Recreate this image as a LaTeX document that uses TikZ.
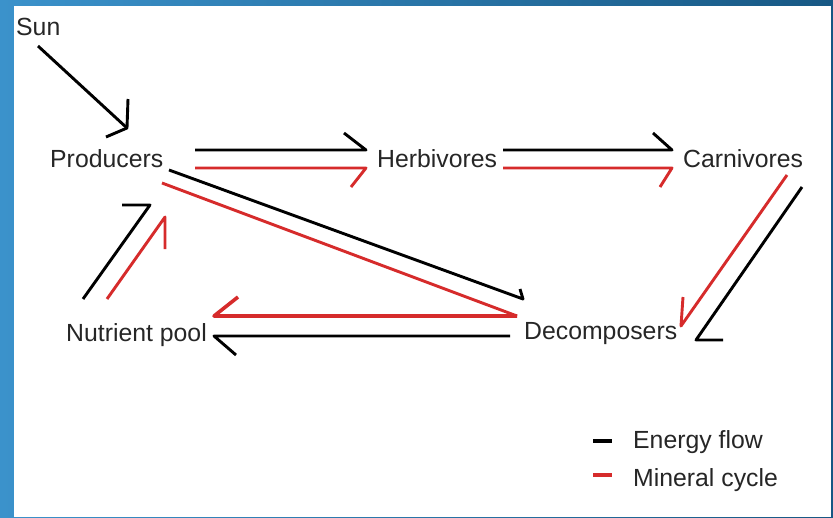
\documentclass[tikz,border=0pt]{standalone}
\usepackage{fontspec}
\setmainfont{Liberation Sans}
\definecolor{myred}{HTML}{D62B2B}
\definecolor{txt}{HTML}{262626}
\definecolor{blueL}{HTML}{3B92CB}
\definecolor{blueR}{HTML}{175884}
\begin{document}
\begin{tikzpicture}[x=1pt,y=-1pt,
  lbl/.style={anchor=base west,inner sep=0pt,text=txt,font=\fontsize{24.8}{28}\selectfont},
  blk/.style={draw=black,line width=2.9pt,line join=round},
  rd/.style={draw=myred,line width=2.9pt,line join=round}]
\useasboundingbox (0,0) rectangle (833,517);
\shade[left color=blueL,right color=blueR] (0,0) rectangle (833,517);
\fill[white] (14,6) rectangle (831,517);

% nodes
\node[lbl] (sun)  at (16,35)  {Sun};
\node[lbl] (prod) at (50,167) {Producers};
\node[lbl] (herb) at (377,167) {Herbivores};
\node[lbl] (carn) at (683,167) {Carnivores};
\node[lbl] (deco) at (524,339) {Decomposers};
\node[lbl] (nutr) at (66,341) {Nutrient pool};
\node[lbl] (leE)  at (633,448) {Energy flow};
\node[lbl] (leM)  at (633,486) {Mineral cycle};

% connector end points
\coordinate (s0) at (38,46);   \coordinate (s1) at (127,128);
\coordinate (ph0) at (195,150); \coordinate (ph1) at (366,150);
\coordinate (ph2) at (195,168); \coordinate (ph3) at (366,168);
\coordinate (hc0) at (503,150); \coordinate (hc1) at (672,150);
\coordinate (hc2) at (503,168); \coordinate (hc3) at (672,168);
\coordinate (cd0) at (787,175); \coordinate (cd1) at (681,326);
\coordinate (cd2) at (802,187); \coordinate (cd3) at (696,340);
\coordinate (pd0) at (169,170); \coordinate (pd1) at (523,299);
\coordinate (pd2) at (162,183); \coordinate (pd3) at (517,316);
\coordinate (dn1) at (214,316);
\coordinate (dn2) at (510,336); \coordinate (dn3) at (214,336);
\coordinate (np0) at (83,299);  \coordinate (np1) at (150,205);
\coordinate (np2) at (107,299); \coordinate (np3) at (165,217);
\coordinate (lg0) at (593,441); \coordinate (lg1) at (612,441);
\coordinate (lg2) at (593,475); \coordinate (lg3) at (612,475);

% Sun -> Producers
\draw[blk] (s0) -- (s1);
\draw[blk] (128,99) -- (s1) -- (106,137);

% Producers -> Herbivores
\draw[blk] (ph0) -- (ph1) -- ++(-22,-17);
\draw[rd]  (ph2) -- (ph3) -- ++(-15,19);

% Herbivores -> Carnivores
\draw[blk] (hc0) -- (hc1) -- ++(-19,-17);
\draw[rd]  (hc2) -- (hc3) -- ++(-12,19);

% Carnivores -> Decomposers
\draw[rd]  (cd0) -- (cd1) -- ++(2,-29);
\draw[blk] (cd2) -- (cd3) -- ++(27,0);

% Producers -> Decomposers
\draw[blk] (pd0) -- (pd1) -- ++(-3,-10);
\draw[rd]  (pd2) -- (pd3);

% Decomposers -> Nutrient pool
\draw[rd,line width=3.6pt]  (pd3) -- (dn1) -- ++(24,-19);
\draw[blk] (dn2) -- (dn3) -- ++(22,19);

% Nutrient pool -> Producers
\draw[blk] (np0) -- (np1) -- ++(-28,0);
\draw[rd]  (np2) -- (np3) -- ++(0,32);

% legend
\draw[blk,line width=3.4pt] (lg0) -- (lg1);
\draw[rd,line width=3.4pt]  (lg2) -- (lg3);
\end{tikzpicture}
\end{document}
